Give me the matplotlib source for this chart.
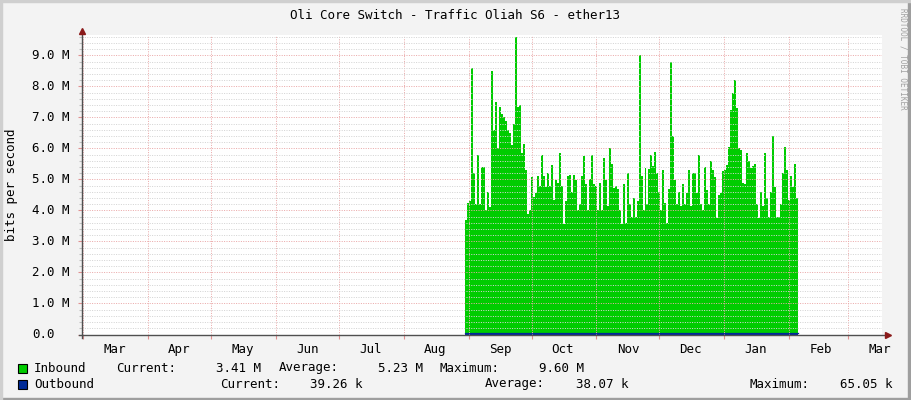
import matplotlib
matplotlib.use('Agg')
import matplotlib.pyplot as plt
import matplotlib.dates as mdates
from matplotlib.transforms import blended_transform_factory
from matplotlib.patches import Rectangle
import numpy as np
import pandas as pd

# ---------------- data ----------------
title = "Oli Core Switch - Traffic Oliah S6 - ether13"
y_label = "bits per second"
watermark = "RRDTOOL / TOBI OETIKER"

period_start = "2021-02-28 12:00"
period_end = "2022-03-17 06:00"
data_start = "2021-08-30 12:00"
data_end = "2022-02-05 00:00"

# inbound traffic, Mbit/s (approx. one sample per day)
inbound_mbps = [
    3.7, 4.25, 4.3, 8.6, 5.2, 4.2, 5.8, 4.2, 5.4, 5.4, 4.0, 4.6, 4.1,
    8.5, 6.6, 7.5, 6.0, 7.35, 7.1, 7.0, 6.9, 6.6, 6.5, 6.1, 6.8, 9.6,
    7.35, 7.4, 5.85, 6.15, 5.3, 3.9, 4.0, 5.08, 4.45, 4.55, 5.1, 4.8,
    5.8, 5.1, 4.75, 5.2, 4.8, 5.46, 4.33, 4.97, 4.9, 5.86, 4.8, 3.55,
    4.3, 5.12, 5.13, 4.6, 5.13, 4.97, 4.0, 4.2, 5.1, 5.75, 4.85, 4.0,
    5.0, 5.78, 4.85, 4.8, 4.0, 4.9, 4.0, 5.7, 4.97, 4.15, 6.0, 5.5,
    4.73, 4.8, 4.7, 4.0, 3.55, 4.85, 3.6, 5.2, 4.2, 3.8, 4.4, 3.8,
    4.3, 9.0, 5.1, 4.0, 5.37, 4.2, 5.35, 5.78, 5.42, 5.9, 5.2, 4.6,
    4.0, 5.3, 4.25, 3.6, 4.7, 8.8, 6.4, 4.97, 4.2, 4.6, 4.15, 4.85,
    4.2, 4.55, 5.3, 4.15, 5.2, 5.2, 4.55, 5.8, 4.2, 4.0, 5.4, 4.65,
    4.2, 5.6, 5.32, 5.07, 3.75, 4.5, 4.55, 5.27, 5.3, 5.46, 6.05, 7.24,
    7.8, 8.2, 7.3, 6.0, 5.95, 4.9, 4.85, 5.85, 5.6, 5.37, 5.42, 5.5,
    4.2, 3.75, 4.6, 4.15, 5.87, 4.4, 3.8, 4.6, 6.4, 4.75, 3.8, 3.8,
    4.2, 5.2, 6.05, 5.3, 4.35, 5.1, 4.75, 5.5, 4.4,
]

# outbound traffic, kbit/s
outbound_kbps = [
    36, 41, 44, 40, 38, 35, 40, 45, 37, 33, 39, 42, 36, 34, 38,
    41, 37, 35, 40, 36, 33, 38, 42, 37, 39,
]

y_ticks_m = [0, 1, 2, 3, 4, 5, 6, 7, 8, 9]

series_names = ["Inbound", "Outbound"]
cur_vals = ["3.41 M", "39.26 k"]
avg_vals = ["5.23 M", "38.07 k"]
max_vals = ["9.60 M", "65.05 k"]

# ---------------- style ----------------
W, H = 911, 400
BG = '#F3F3F3'
GREEN = '#00CC00'
BLUE = '#002A97'
MONO = 'DejaVu Sans Mono'
FS = 9

plt.rcParams['font.family'] = MONO

fig = plt.figure(figsize=(W / 100, H / 100), dpi=100)
fig.patch.set_facecolor(BG)

def fx(px):
    return px / W

def fy(py):
    return 1 - py / H

# frame shading
fig.patches.append(Rectangle((0, 0), 1, 2 / H, transform=fig.transFigure, color='#9E9E9E', zorder=0))
fig.patches.append(Rectangle((1 - 3 / W, 0), 3 / W, 1, transform=fig.transFigure, color='#9E9E9E', zorder=0))
fig.patches.append(Rectangle((0, 1 - 2 / H), 1, 2 / H, transform=fig.transFigure, color='#CFCFCF', zorder=0))
fig.patches.append(Rectangle((0, 0), 2 / W, 1, transform=fig.transFigure, color='#CFCFCF', zorder=0))

ax = fig.add_axes([fx(82), fy(334.5), 800 / W, 300 / H])
ax.set_facecolor('white')
for s in ax.spines.values():
    s.set_visible(False)

t0 = pd.Timestamp(period_start)
t1 = pd.Timestamp(period_end)
ax.set_xlim(mdates.date2num(t0), mdates.date2num(t1))
ax.set_ylim(0, 9.677e6)

# inbound area (step)
n_in = len(inbound_mbps)
edges_in = pd.date_range(data_start, data_end, periods=n_in + 1)
xe = mdates.date2num(edges_in)
yin = np.array(inbound_mbps) * 1e6
ax.fill_between(xe, np.append(yin, yin[-1]), 0, step='post', color=GREEN, lw=0, zorder=1)

# outbound
n_out = len(outbound_kbps)
edges_out = pd.date_range(data_start, data_end, periods=n_out + 1)
xo = mdates.date2num(edges_out)
yo = np.array(outbound_kbps) * 1e3
ax.fill_between(xo, np.append(yo, yo[-1]), 0, step='post', color=BLUE, lw=0, zorder=2)
ax.step(xo, np.append(yo, yo[-1]), where='post', color=BLUE, lw=0.9, zorder=2)

# grid
ax.yaxis.set_major_locator(matplotlib.ticker.MultipleLocator(1e6))
ax.yaxis.set_minor_locator(matplotlib.ticker.MultipleLocator(0.2e6))
ax.xaxis.set_major_locator(mdates.MonthLocator(bymonthday=16))
ax.xaxis.set_major_formatter(mdates.DateFormatter('%b'))
ax.xaxis.set_minor_locator(mdates.MonthLocator())

MINOR_C = '#D4D4D4'
MAJOR_C = '#EBAAAA'
ax.grid(True, which='minor', axis='y', color=MINOR_C, lw=0.72, ls=(0, (1, 1.4)), zorder=3)
ax.grid(True, which='major', axis='y', color=MAJOR_C, lw=0.72, ls=(0, (1, 1.4)), zorder=3)
ax.grid(True, which='minor', axis='x', color=MAJOR_C, lw=0.72, ls=(0, (1, 1.4)), zorder=3)
ax.grid(False, which='major', axis='x')
ax.set_axisbelow(False)

ax.tick_params(axis='x', which='major', length=0, pad=6, labelsize=FS)
ax.tick_params(axis='x', which='minor', length=3, color='#E09090', width=0.8)
ax.tick_params(axis='y', which='major', length=3, color='#E09090', width=0.8, labelleft=False)
ax.tick_params(axis='y', which='minor', length=2, color='#C0C0C0', width=0.8)
for lab in ax.get_xticklabels():
    lab.set_fontfamily(MONO)

# y tick labels (left aligned like rrdtool)
trans = blended_transform_factory(fig.transFigure, ax.transData)
for v in y_ticks_m:
    txt = f"{v:.1f} M" if v else f"{v:.1f}"
    ax.text(fx(32), v * 1e6, txt, transform=trans, ha='left', va='center',
            fontsize=FS, family=MONO, clip_on=False)

# axes lines + arrows
AX_C = '#505050'
ARR_C = '#8B1A1A'
ax.plot([-0.004, 1.006], [0, 0], transform=ax.transAxes, color=AX_C, lw=1.0, clip_on=False, zorder=5)
ax.plot([0, 0], [-0.012, 1.008], transform=ax.transAxes, color=AX_C, lw=1.0, clip_on=False, zorder=5)
ax.plot([1.007], [0], marker='>', ms=4, color=ARR_C, transform=ax.transAxes, clip_on=False, zorder=6)
ax.plot([0], [1.011], marker='^', ms=4, color=ARR_C, transform=ax.transAxes, clip_on=False, zorder=6)

# title, labels, watermark
fig.text(0.5, fy(15.5), title, ha='center', va='center', fontsize=FS, family=MONO)
fig.text(fx(12), fy(185), y_label, rotation=90, ha='center', va='center', fontsize=FS, family=MONO)
fig.text(fx(903), fy(8), watermark, rotation=270, ha='center', va='top', fontsize=5.5,
         family=MONO, color='#A0A0A0')

# legend
rows_y = [368, 384]
colors = [GREEN, BLUE]
cur_label_x = [116, 220]
cur_val_r = [261, 362]
avg_label_x = [279, 485]
avg_val_r = [423, 628]
max_label_x = [440, 750]
max_val_r = [584, 892]
for i in range(2):
    yy = rows_y[i]
    fig.patches.append(Rectangle((fx(18), fy(yy + 5)), 9 / W, 9 / H, transform=fig.transFigure,
                                 facecolor=colors[i], edgecolor='black', lw=0.8))
    fig.text(fx(34), fy(yy), series_names[i], ha='left', va='center', fontsize=FS, family=MONO)
    fig.text(fx(cur_label_x[i]), fy(yy), "Current:", ha='left', va='center', fontsize=FS, family=MONO)
    fig.text(fx(cur_val_r[i]), fy(yy), cur_vals[i], ha='right', va='center', fontsize=FS, family=MONO)
    fig.text(fx(avg_label_x[i]), fy(yy), "Average:", ha='left', va='center', fontsize=FS, family=MONO)
    fig.text(fx(avg_val_r[i]), fy(yy), avg_vals[i], ha='right', va='center', fontsize=FS, family=MONO)
    fig.text(fx(max_label_x[i]), fy(yy), "Maximum:", ha='left', va='center', fontsize=FS, family=MONO)
    fig.text(fx(max_val_r[i]), fy(yy), max_vals[i], ha='right', va='center', fontsize=FS, family=MONO)

fig.savefig('out.png', dpi=100, facecolor=BG)
